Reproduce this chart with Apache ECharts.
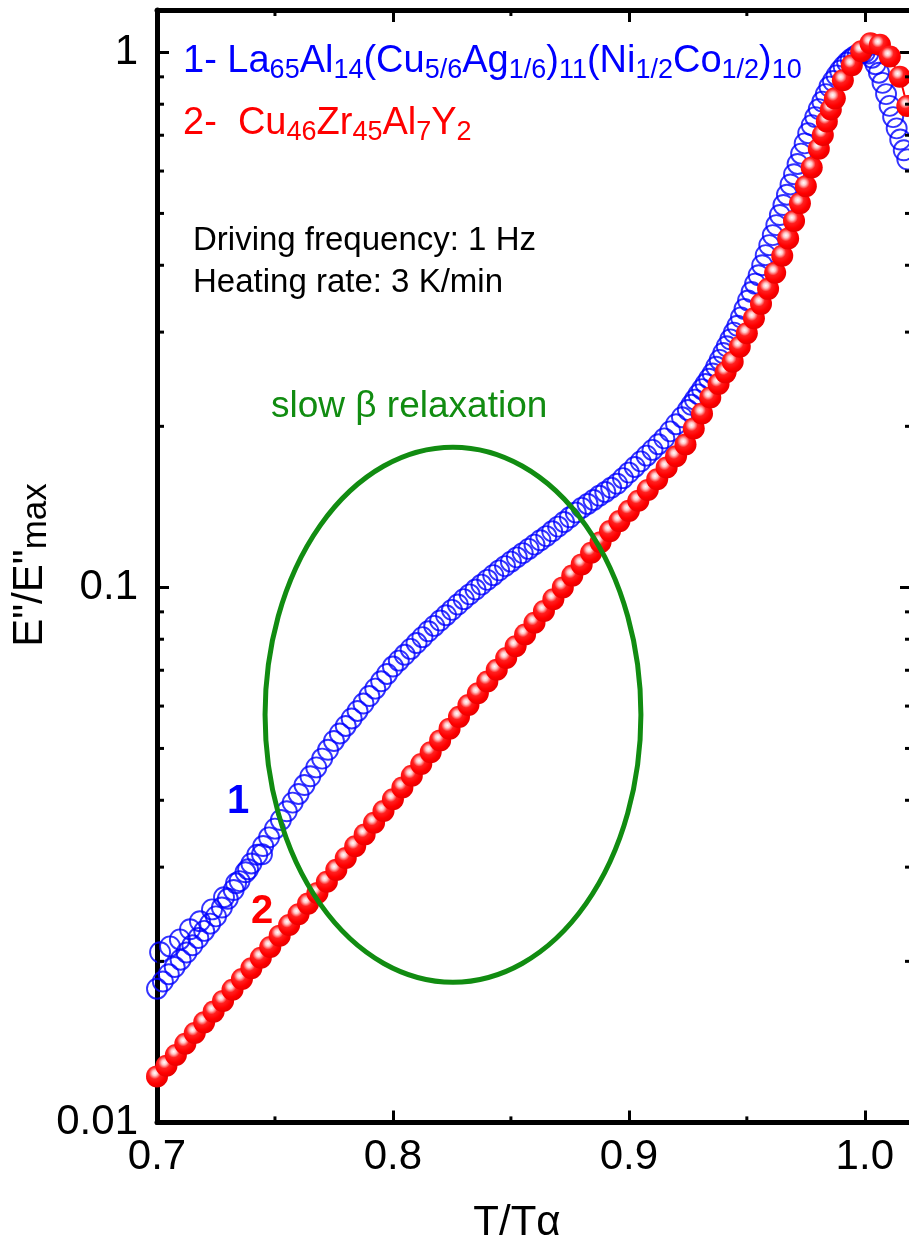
<!DOCTYPE html>
<html>
<head>
<meta charset="utf-8">
<script src="https://cdn.jsdelivr.net/npm/echarts@6/dist/echarts.min.js"></script>
<style>
  html, body { margin: 0; padding: 0; background: #fff; }
  #chart { width: 909px; height: 1247px; }
</style>
</head>
<body>
<div id="chart"></div>
<script>
// T/Tα , E''/E''max  — sample 1 (La-based), main run
const blueMain = [
  [0.7000,0.01778],[0.7025,0.01834],[0.7050,0.01892],[0.7075,0.01952],[0.7100,0.02014],
  [0.7125,0.02077],[0.7150,0.02143],[0.7175,0.02211],[0.7200,0.02280],[0.7225,0.02352],
  [0.7250,0.02427],[0.7275,0.02521],[0.7300,0.02618],[0.7325,0.02719],[0.7350,0.02825],
  [0.7375,0.02934],[0.7400,0.03048],[0.7425,0.03164],[0.7450,0.03285],[0.7475,0.03410],
  [0.7500,0.03540],[0.7525,0.03675],[0.7550,0.03815],[0.7575,0.03960],[0.7600,0.04111],
  [0.7625,0.04271],[0.7650,0.04436],[0.7675,0.04608],[0.7700,0.04786],[0.7725,0.04971],
  [0.7750,0.05164],[0.7775,0.05333],[0.7800,0.05508],[0.7825,0.05689],[0.7850,0.05875],
  [0.7875,0.06067],[0.7900,0.06266],[0.7925,0.06467],[0.7950,0.06675],[0.7975,0.06889],
  [0.8000,0.07112],[0.8025,0.07295],[0.8050,0.07482],[0.8075,0.07674],[0.8100,0.07870],
  [0.8125,0.08072],[0.8150,0.08279],[0.8175,0.08472],[0.8200,0.08670],[0.8225,0.08872],
  [0.8250,0.09078],[0.8275,0.09290],[0.8300,0.09506],[0.8325,0.09705],[0.8350,0.09908],
  [0.8375,0.1012],[0.8400,0.1033],[0.8425,0.1054],[0.8450,0.1076],[0.8475,0.1096],
  [0.8500,0.1117],[0.8525,0.1138],[0.8550,0.1159],[0.8575,0.1180],[0.8600,0.1202],
  [0.8625,0.1225],[0.8650,0.1247],[0.8675,0.1273],[0.8700,0.1299],[0.8725,0.1325],
  [0.8750,0.1352],[0.8775,0.1380],[0.8800,0.1408],[0.8825,0.1432],[0.8850,0.1457],
  [0.8875,0.1483],[0.8900,0.1508],[0.8925,0.1535],[0.8950,0.1562],[0.8975,0.1600],
  [0.9000,0.1639],[0.9025,0.1679],[0.9050,0.1720],[0.9075,0.1763],[0.9100,0.1807],
  [0.9125,0.1852],[0.9150,0.1899],[0.9175,0.1957],[0.9200,0.2018],[0.9225,0.2080],
  [0.9250,0.2145],[0.9265,0.2194],[0.9280,0.2244],[0.9295,0.2295],[0.9310,0.2347],
  [0.9325,0.2400],[0.9340,0.2455],[0.9355,0.2511],[0.9370,0.2585],[0.9385,0.2662],
  [0.9400,0.2742],[0.9415,0.2823],[0.9430,0.2908],[0.9445,0.2994],[0.9460,0.3083],
  [0.9475,0.3197],[0.9490,0.3315],[0.9505,0.3437],[0.9520,0.3565],[0.9535,0.3696],
  [0.9550,0.3832],[0.9565,0.4001],[0.9580,0.4178],[0.9595,0.4362],[0.9610,0.4555],
  [0.9625,0.4755],[0.9640,0.4966],[0.9655,0.5185],[0.9670,0.5419],[0.9685,0.5664],
  [0.9700,0.5920],[0.9715,0.6187],[0.9730,0.6467],[0.9745,0.6759],[0.9760,0.7063],
  [0.9775,0.7311],[0.9790,0.7568],[0.9805,0.7834],[0.9820,0.8091],[0.9835,0.8356],
  [0.9850,0.8630],[0.9865,0.8841],[0.9880,0.9057],[0.9895,0.9247],[0.9910,0.9419],
  [0.9925,0.9572],[0.9940,0.9705],[0.9955,0.9817],[0.9970,0.9908],[0.9985,0.9977],
  [1.0000,1.000],[1.0015,0.9954],[1.0030,0.9772],[1.0045,0.9506],[1.0060,0.9162],
  [1.0075,0.8770],[1.0090,0.8356],[1.0105,0.7943],[1.0120,0.7568],[1.0135,0.7211],
  [1.0150,0.6871],[1.0165,0.6561],[1.0180,0.6310]
];

// sample 1, the few scattered points sitting above the main run at low T
const blueEarly = [
  [0.7013,0.02080],[0.7055,0.02133],[0.7097,0.02198],[0.7140,0.02296],[0.7182,0.02377],
  [0.7233,0.02501],[0.7284,0.02636],[0.7335,0.02799],[0.7386,0.02972],[0.7445,0.03170]
];

// sample 2 (Cu46Zr45Al7Y2)
const redMain = [
  [0.700,0.01219],[0.704,0.01276],[0.708,0.01337],[0.712,0.01403],[0.716,0.01469],
  [0.720,0.01538],[0.724,0.01611],[0.728,0.01687],[0.732,0.01770],[0.736,0.01853],
  [0.740,0.01941],[0.744,0.02032],[0.748,0.02128],[0.752,0.02234],[0.756,0.02339],
  [0.760,0.02449],[0.764,0.02564],[0.768,0.02685],[0.772,0.02818],[0.776,0.02965],
  [0.780,0.03119],[0.784,0.03281],[0.788,0.03451],[0.792,0.03631],[0.796,0.03819],
  [0.800,0.04018],[0.804,0.04227],[0.808,0.04446],[0.812,0.04677],[0.816,0.04920],
  [0.820,0.05176],[0.824,0.05445],[0.828,0.05728],[0.832,0.06026],[0.836,0.06339],
  [0.840,0.06668],[0.844,0.07015],[0.848,0.07379],[0.852,0.07762],[0.856,0.08166],
  [0.860,0.08590],[0.864,0.09036],[0.868,0.09506],[0.872,0.1000],[0.876,0.1052],
  [0.880,0.1104],[0.884,0.1161],[0.888,0.1215],[0.892,0.1274],[0.896,0.1330],
  [0.900,0.1390],[0.904,0.1452],[0.908,0.1521],[0.912,0.1592],[0.916,0.1675],
  [0.920,0.1758],[0.924,0.1849],[0.9275,0.1982],[0.931,0.2113],[0.9345,0.2265],
  [0.938,0.2399],[0.941,0.2523],[0.944,0.2642],[0.947,0.2818],[0.950,0.2985],
  [0.953,0.3184],[0.956,0.3388],[0.959,0.3614],[0.962,0.3873],[0.965,0.4169],
  [0.9675,0.4487],[0.970,0.4842],[0.9725,0.5224],[0.975,0.5623],[0.9775,0.6095],
  [0.9805,0.6607],[0.9822,0.7010],[0.9839,0.7430],[0.9856,0.7820],[0.9873,0.8204],
  [0.9907,0.8872],[0.9945,0.9462],[0.9985,1.005],[1.0024,1.040],[1.0064,1.033],
  [1.0106,0.982],[1.0148,0.900],[1.0180,0.794]
];

const xMinorTicks = [0.75, 0.85, 0.95];
const yMinorTicks = [0.02, 0.03, 0.04, 0.05, 0.06, 0.07, 0.08, 0.09,
                     0.2, 0.3, 0.4, 0.5, 0.6, 0.7, 0.8, 0.9];
// slow beta relaxation region: [T left, T right, E low, E high]
const betaRegion = [0.7458, 0.9051, 0.01828, 0.1828];

const FONT = 'Liberation Sans, Arial, sans-serif';
const BLUE = '#0000ff';
const RED = '#ff0000';
const GREEN = '#118c11';

const chart = echarts.init(document.getElementById('chart'));

const axisLine = { onZero: false, lineStyle: { color: '#000', width: 5 } };
const axisTick = { inside: true, length: 12, lineStyle: { color: '#000', width: 3 } };

const xBase = { type: 'value', min: 0.7, max: 1.02, interval: 0.1,
  axisLine, axisTick, splitLine: { show: false } };
const yBase = { type: 'log', logBase: 10, min: 0.01, max: 1.2,
  axisLine, axisTick, splitLine: { show: false }, minorTick: { show: false } };

// 2..9 minor ticks of the log axis, on both left and right sides
function renderYMinor(params, api) {
  const cs = params.coordSys;
  const p = api.coord([0.7, api.value(1)]);
  const st = { stroke: '#000', lineWidth: 3 };
  return { type: 'group', children: [
    { type: 'line', shape: { x1: cs.x, y1: p[1], x2: cs.x + 7, y2: p[1] }, style: st },
    { type: 'line', shape: { x1: cs.x + cs.width, y1: p[1], x2: cs.x + cs.width - 7, y2: p[1] }, style: st }
  ]};
}

function renderXMinor(params, api) {
  const cs = params.coordSys;
  const p = api.coord([api.value(0), 0.1]);
  const st = { stroke: '#000', lineWidth: 3 };
  return { type: 'group', children: [
    { type: 'line', shape: { x1: p[0], y1: cs.y + cs.height, x2: p[0], y2: cs.y + cs.height - 6 }, style: st },
    { type: 'line', shape: { x1: p[0], y1: cs.y, x2: p[0], y2: cs.y + 6 }, style: st }
  ]};
}

function renderEllipse(params, api) {
  const a = api.coord([api.value(0), api.value(3)]);
  const b = api.coord([api.value(1), api.value(2)]);
  const cx = (a[0] + b[0]) / 2, cy = (a[1] + b[1]) / 2;
  const rx = (b[0] - a[0]) / 2, ry = (b[1] - a[1]) / 2;
  const d = 'M' + (cx - rx) + ',' + cy +
    ' A' + rx + ',' + ry + ' 0 1,0 ' + (cx + rx) + ',' + cy +
    ' A' + rx + ',' + ry + ' 0 1,0 ' + (cx - rx) + ',' + cy + ' Z';
  return { type: 'path', shape: { pathData: d }, style: { fill: 'none', stroke: GREEN, lineWidth: 5 } };
}

const subStyle = (color, size, lh) => ({ fontSize: size, lineHeight: lh, verticalAlign: 'bottom', fill: color, fontFamily: FONT });

const blueCircle = { color: 'rgba(0,0,0,0)', borderColor: BLUE, borderWidth: 1.9 };

const option = {
  animation: false,
  textStyle: { fontFamily: FONT },
  grid: { left: 157, top: 10, width: 755, height: 1112.4, containLabel: false, outerBoundsMode: 'none' },
  xAxis: [
    Object.assign({}, xBase, { position: 'bottom',
      axisLabel: { fontSize: 42, color: '#000', margin: 14, fontFamily: FONT, showMaxLabel: false,
        formatter: v => v.toFixed(1) } }),
    Object.assign({}, xBase, { position: 'top', axisLabel: { show: false } })
  ],
  yAxis: [
    Object.assign({}, yBase, { position: 'left',
      axisLabel: { fontSize: 42, color: '#000', margin: 19, fontFamily: FONT, showMaxLabel: false,
        formatter: v => String(Number(v.toPrecision(1))) } }),
    Object.assign({}, yBase, { position: 'right', axisLabel: { show: false } })
  ],
  series: [
    {
      name: 'sample 1', type: 'scatter', data: blueMain, symbol: 'circle', symbolSize: 20,
      itemStyle: blueCircle, silent: true, z: 2
    },
    {
      name: 'sample 1 early', type: 'scatter', data: blueEarly, symbol: 'circle', symbolSize: 20,
      itemStyle: blueCircle, silent: true, z: 2
    },
    {
      name: 'sample 2', type: 'line', data: redMain, symbol: 'circle', symbolSize: 22,
      showAllSymbol: true,
      lineStyle: { color: RED, width: 2 },
      itemStyle: {
        color: { type: 'radial', x: 0.4, y: 0.35, r: 0.65, colorStops: [
          { offset: 0, color: '#ffffff' },
          { offset: 0.18, color: '#ffc8c8' },
          { offset: 0.42, color: '#ff2020' },
          { offset: 0.75, color: '#ff0000' },
          { offset: 1, color: '#e80000' }
        ] }
      },
      silent: true, z: 3
    },
    {
      type: 'custom', renderItem: renderEllipse, data: [betaRegion], silent: true, z: 5,
      encode: { x: [0, 1], y: [2, 3] }
    },
    {
      type: 'custom', renderItem: renderYMinor, data: yMinorTicks.map(v => [0.7, v]), silent: true, z: 6
    },
    {
      type: 'custom', renderItem: renderXMinor, data: xMinorTicks.map(v => [v, 0.1]), silent: true, z: 6
    }
  ],
  graphic: [
    { type: 'text', x: 183, y: 40, z: 10, style: {
        text: '1- La{s|65}Al{s|14}(Cu{s|5/6}Ag{s|1/6}){s|11}(Ni{s|1/2}Co{s|1/2}){s|10}',
        fill: BLUE, fontSize: 38, lineHeight: 44, fontFamily: FONT, verticalAlign: 'top',
        rich: { s: subStyle(BLUE, 27, 10) } } },
    { type: 'text', x: 183, y: 102, z: 10, style: {
        text: '2-  Cu{s|46}Zr{s|45}Al{s|7}Y{s|2}',
        fill: RED, fontSize: 38, lineHeight: 44, fontFamily: FONT, verticalAlign: 'top',
        rich: { s: subStyle(RED, 27, 10) } } },
    { type: 'text', x: 193, y: 241, z: 10, style: {
        text: 'Driving frequency: 1 Hz', fill: '#000', fontSize: 33, fontFamily: FONT, verticalAlign: 'middle' } },
    { type: 'text', x: 193, y: 283, z: 10, style: {
        text: 'Heating rate: 3 K/min', fill: '#000', fontSize: 33, fontFamily: FONT, verticalAlign: 'middle' } },
    { type: 'text', x: 271, y: 407, z: 10, style: {
        text: 'slow β relaxation', fill: GREEN, fontSize: 37, fontFamily: FONT, verticalAlign: 'middle' } },
    { type: 'text', x: 238, y: 802, z: 10, style: {
        text: '1', fill: BLUE, fontSize: 40, fontWeight: 'bold', fontFamily: FONT, align: 'center', verticalAlign: 'middle' } },
    { type: 'text', x: 262, y: 912, z: 10, style: {
        text: '2', fill: RED, fontSize: 40, fontWeight: 'bold', fontFamily: FONT, align: 'center', verticalAlign: 'middle' } },
    { type: 'text', x: 517, y: 1223, z: 10, style: {
        text: 'T/Tα', fill: '#000', fontSize: 42, fontFamily: FONT, align: 'center', verticalAlign: 'middle' } },
    { type: 'text', x: 30, y: 565, rotation: Math.PI / 2, z: 10, style: {
        text: 'E"/E"{s|max}', fill: '#000', fontSize: 42, lineHeight: 48, fontFamily: FONT,
        align: 'center', verticalAlign: 'middle',
        rich: { s: subStyle('#000', 35, 8) } } }
  ]
};

chart.setOption(option);
</script>
</body>
</html>
